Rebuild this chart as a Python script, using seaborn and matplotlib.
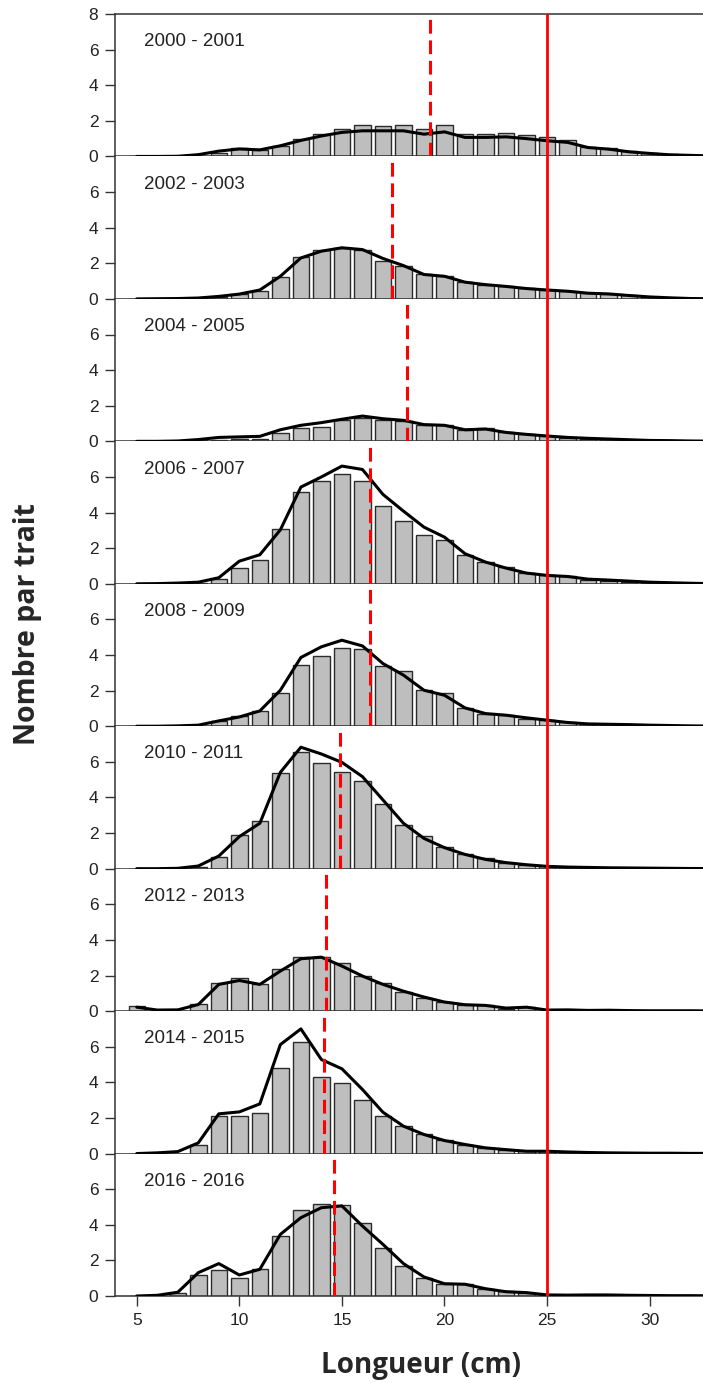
import numpy as np
import pandas as pd
import matplotlib
matplotlib.use("Agg")
import matplotlib.pyplot as plt
import seaborn as sns

# Length classes (cm) for the bars and for the reference curve
lengths = list(range(5, 33))
curve_lengths = list(range(5, 34))

periods = ["2000 - 2001", "2002 - 2003", "2004 - 2005", "2006 - 2007", "2008 - 2009",
           "2010 - 2011", "2012 - 2013", "2014 - 2015", "2016 - 2016"]

# Numbers per haul for each length class
bars_2000_2001 = [0, 0, 0, 0.03, 0.22, 0.5, 0.37, 0.56, 0.97, 1.24, 1.52, 1.76, 1.70, 1.76,
                  1.52, 1.76, 1.27, 1.27, 1.31, 1.18, 1.07, 0.92, 0.54, 0.47, 0.28, 0.19, 0.11, 0.07]
bars_2002_2003 = [0, 0, 0.01, 0.04, 0.12, 0.25, 0.45, 1.25, 2.38, 2.77, 2.87, 2.77, 2.15, 1.87,
                  1.37, 1.31, 0.94, 0.8, 0.75, 0.62, 0.52, 0.47, 0.34, 0.3, 0.2, 0.13, 0.07, 0.04]
bars_2004_2005 = [0, 0, 0.01, 0.05, 0.1, 0.11, 0.15, 0.49, 0.75, 0.8, 1.18, 1.31, 1.18, 1.12,
                  0.94, 0.9, 0.62, 0.73, 0.52, 0.39, 0.3, 0.2, 0.15, 0.11, 0.07, 0.05, 0.03, 0.02]
bars_2006_2007 = [0, 0, 0, 0.02, 0.28, 0.9, 1.35, 3.09, 5.13, 5.77, 6.18, 5.77, 4.36, 3.5,
                  2.75, 2.45, 1.6, 1.22, 0.97, 0.6, 0.5, 0.43, 0.22, 0.15, 0.11, 0.07, 0.04, 0.02]
bars_2008_2009 = [0, 0, 0, 0.02, 0.28, 0.56, 0.84, 1.84, 3.45, 3.93, 4.4, 4.33, 3.37, 3.11,
                  2.02, 1.84, 1.03, 0.71, 0.62, 0.43, 0.34, 0.22, 0.15, 0.11, 0.09, 0.07, 0.05, 0.03]
bars_2010_2011 = [0, 0, 0.01, 0.1, 0.64, 1.87, 2.7, 5.36, 6.57, 5.96, 5.43, 4.91, 3.62, 2.45,
                  1.85, 1.24, 0.82, 0.58, 0.34, 0.21, 0.13, 0.08, 0.06, 0.04, 0.03, 0.02, 0.01, 0.01]
bars_2012_2013 = [0.28, 0, 0.03, 0.41, 1.59, 1.87, 1.54, 2.38, 3.03, 3.03, 2.72, 2.0, 1.59, 1.09,
                  0.75, 0.51, 0.32, 0.32, 0.13, 0.22, 0.03, 0.03, 0.02, 0.03, 0.02, 0.02, 0.01, 0.01]
bars_2014_2015 = [0, 0, 0, 0.49, 2.1, 2.1, 2.27, 4.78, 6.29, 4.31, 3.97, 3.03, 2.1, 1.54,
                  1.1, 0.75, 0.49, 0.3, 0.19, 0.13, 0.13, 0.1, 0.05, 0.04, 0.03, 0.02, 0.01, 0.01]
bars_2016_2016 = [0, 0, 0.15, 1.16, 1.44, 1.01, 1.5, 3.37, 4.83, 5.19, 5.11, 4.08, 2.68, 1.69,
                  1.03, 0.69, 0.69, 0.37, 0.26, 0.19, 0.06, 0.05, 0.06, 0.07, 0.04, 0.03, 0.02, 0.02]

# Smoothed length distribution drawn as a line
curve_2000_2001 = [0, 0, 0.01, 0.1, 0.3, 0.42, 0.37, 0.6, 0.9, 1.15, 1.35, 1.44, 1.44, 1.44, 1.25,
                   1.38, 1.07, 1.07, 1.1, 1.0, 0.88, 0.79, 0.5, 0.41, 0.26, 0.17, 0.09, 0.06, 0.03]
curve_2002_2003 = [0, 0.01, 0.02, 0.05, 0.14, 0.27, 0.5, 1.27, 2.3, 2.68, 2.87, 2.77, 2.27, 1.87, 1.37,
                   1.27, 0.94, 0.8, 0.7, 0.58, 0.5, 0.43, 0.32, 0.28, 0.19, 0.11, 0.06, 0.02, 0.01]
curve_2004_2005 = [0, 0, 0.02, 0.1, 0.22, 0.25, 0.28, 0.65, 0.9, 1.05, 1.24, 1.42, 1.27, 1.18, 0.94,
                   0.9, 0.65, 0.69, 0.5, 0.39, 0.3, 0.22, 0.17, 0.13, 0.09, 0.05, 0.04, 0.02, 0.01]
curve_2006_2007 = [0, 0.01, 0.04, 0.09, 0.34, 1.27, 1.63, 3.03, 5.43, 6.0, 6.61, 6.42, 5.02, 4.08, 3.18,
                   2.62, 1.69, 1.22, 0.88, 0.6, 0.47, 0.41, 0.26, 0.21, 0.15, 0.09, 0.06, 0.03, 0.01]
curve_2008_2009 = [0, 0, 0.02, 0.06, 0.3, 0.52, 0.86, 2.02, 3.86, 4.46, 4.83, 4.51, 3.52, 2.87, 2.02,
                   1.74, 1.03, 0.71, 0.62, 0.47, 0.34, 0.21, 0.13, 0.11, 0.09, 0.06, 0.04, 0.02, 0.01]
curve_2010_2011 = [0, 0, 0.02, 0.15, 0.71, 1.8, 2.55, 5.41, 6.82, 6.44, 5.97, 5.17, 3.86, 2.55, 1.7,
                   1.18, 0.8, 0.52, 0.34, 0.22, 0.13, 0.09, 0.07, 0.05, 0.04, 0.03, 0.02, 0.01, 0.01]
curve_2012_2013 = [0.22, 0.06, 0.07, 0.37, 1.5, 1.72, 1.5, 2.25, 2.94, 3.03, 2.53, 1.97, 1.5, 1.12, 0.79,
                   0.51, 0.36, 0.32, 0.17, 0.22, 0.06, 0.07, 0.04, 0.05, 0.03, 0.02, 0.02, 0.02, 0.01]
curve_2014_2015 = [0, 0.04, 0.11, 0.6, 2.23, 2.34, 2.79, 6.12, 7.0, 5.28, 4.76, 3.6, 2.32, 1.54, 1.07,
                   0.73, 0.51, 0.32, 0.22, 0.13, 0.13, 0.09, 0.06, 0.04, 0.03, 0.02, 0.02, 0.01, 0.01]
curve_2016_2016 = [0, 0.04, 0.21, 1.31, 1.82, 1.18, 1.5, 3.46, 4.4, 4.96, 5.06, 3.93, 2.9, 1.82, 1.07,
                   0.69, 0.66, 0.41, 0.24, 0.19, 0.06, 0.05, 0.06, 0.06, 0.04, 0.03, 0.02, 0.02, 0.01]

# Mean length per period (dashed) and reference length (solid)
mean_lengths = [19.27, 17.43, 18.15, 16.38, 16.36, 14.92, 14.21, 14.15, 14.62]
reference_length = 25

all_bars = [bars_2000_2001, bars_2002_2003, bars_2004_2005, bars_2006_2007, bars_2008_2009,
            bars_2010_2011, bars_2012_2013, bars_2014_2015, bars_2016_2016]
all_curves = [curve_2000_2001, curve_2002_2003, curve_2004_2005, curve_2006_2007, curve_2008_2009,
              curve_2010_2011, curve_2012_2013, curve_2014_2015, curve_2016_2016]

bars_df = pd.concat([pd.DataFrame({"period": p, "length": lengths, "n": b})
                     for p, b in zip(periods, all_bars)], ignore_index=True)
curve_df = pd.concat([pd.DataFrame({"period": p, "length": curve_lengths, "n": c})
                      for p, c in zip(periods, all_curves)], ignore_index=True)

sns.set_style("ticks")
plt.rcParams["font.family"] = ["Liberation Sans", "DejaVu Sans"]

W, H = 703, 1383
fig = plt.figure(figsize=(W / 100, H / 100), dpi=100)
axes = fig.subplots(len(periods), 1, sharex=True, gridspec_kw=dict(hspace=0))
fig.subplots_adjust(left=115 / W, right=1.0, top=1 - 14 / H, bottom=1 - 1296 / H)

axis_color = "#333333"
for i, (ax, period) in enumerate(zip(axes, periods)):
    sub_b = bars_df[bars_df["period"] == period]
    sub_c = curve_df[curve_df["period"] == period]
    sns.barplot(data=sub_b, x="length", y="n", native_scale=True, orient="x", width=0.8,
                color="#BEBEBE", saturation=1, edgecolor="#2b2b2b", linewidth=1.0,
                errorbar=None, ax=ax, zorder=2)
    sns.lineplot(data=sub_c, x="length", y="n", color="black", linewidth=2.2, ax=ax, zorder=4)
    ax.axvline(mean_lengths[i], color="#FF0000", linewidth=2.2, dashes=(4.5, 2.2), zorder=5)
    ax.axvline(reference_length, color="#FF0000", linewidth=2.0, zorder=5)

    ax.set_xlim(3.94, 32.6)
    ax.set_ylim(0, 8)
    ax.set_xlabel("")
    ax.set_ylabel("")
    ax.set_yticks([0, 2, 4, 6, 8] if i == 0 else [0, 2, 4, 6])
    ax.tick_params(axis="y", length=7, width=1.0, color=axis_color, labelsize=12.5,
                   pad=5, labelcolor="#222222")
    ax.spines["right"].set_visible(False)
    ax.spines["top"].set_visible(i == 0)
    for side in ("left", "bottom", "top"):
        ax.spines[side].set_color(axis_color)
        ax.spines[side].set_linewidth(1.1)
    ax.text(0.049, 0.805, period, transform=ax.transAxes, ha="left", va="center",
            fontsize=13.5, color="#222222")
    if i < len(periods) - 1:
        ax.tick_params(axis="x", bottom=False, labelbottom=False)

axes[-1].set_xticks([5, 10, 15, 20, 25, 30])
axes[-1].tick_params(axis="x", length=7, width=1.0, color=axis_color, labelsize=12.5,
                     pad=5, labelcolor="#222222")

fig.text(421 / W, 1 - 1366 / H, "Longueur (cm)", ha="center", va="center",
         fontsize=20, fontweight="bold", family=["Open Sans", "DejaVu Sans"])
fig.text(28 / W, 1 - 624 / H, "Nombre par trait", ha="center", va="center", rotation=90,
         fontsize=20.5, fontweight="bold", family=["Open Sans", "DejaVu Sans"])

fig.savefig("out.png", dpi=100)
